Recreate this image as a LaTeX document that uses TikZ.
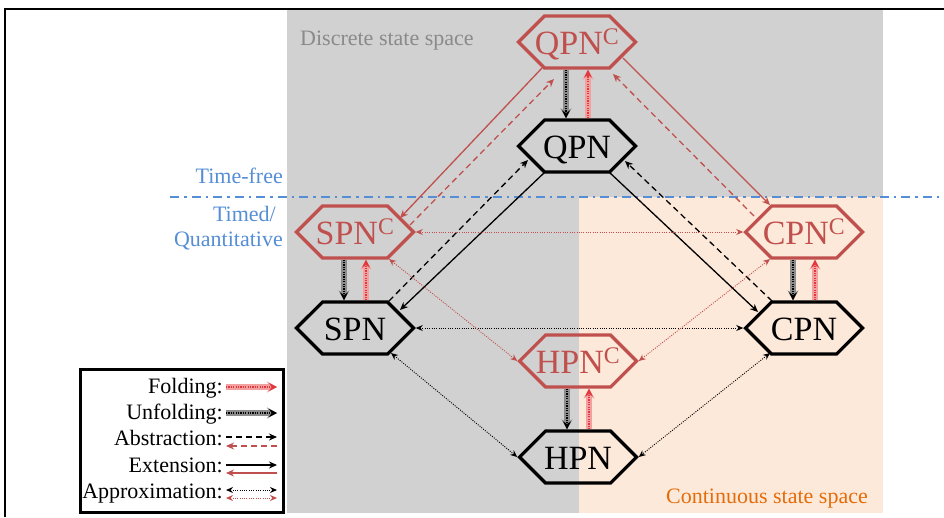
\documentclass[tikz,border=0pt]{standalone}
\usepackage{fontspec}
\setmainfont{Liberation Serif}
\usetikzlibrary{shapes.symbols,arrows.meta,calc}

\definecolor{petred}{HTML}{C0504D}
\definecolor{foldred}{HTML}{E0383D}
\definecolor{foldglow}{HTML}{F2A0A0}
\definecolor{unfoldglow}{HTML}{8C8C8C}
\definecolor{discgray}{HTML}{D1D1D1}
\definecolor{contpeach}{HTML}{FDE9D9}
\definecolor{timeblue}{HTML}{558ED5}
\definecolor{contorange}{HTML}{E46C0A}
\definecolor{discgraytext}{HTML}{8A8A8A}

\tikzset{
	hexnode/.style = {shape=signal, signal to=east and west, signal pointer angle=90,
		minimum width=117pt, minimum height=52pt, inner sep=0pt, line width=3.2pt,
		draw=black, text height=24pt, text depth=0pt, font=\fontsize{34}{34}\selectfont},
	hexc/.style = {hexnode, draw=petred, text=petred},
	folding/.style = {draw=foldred, line width=1.2pt, dash pattern=on 1.2pt off 1.2pt,
		-{Stealth[length=8pt,width=8pt]},
		preaction={draw=foldglow, line width=5.5pt, solid, -{Stealth[length=10pt,width=11pt]}}},
	unfolding/.style = {draw=black, line width=1.2pt, dash pattern=on 1.2pt off 1.2pt,
		-{Stealth[length=8pt,width=8pt]},
		preaction={draw=unfoldglow, line width=5.5pt, solid, -{Stealth[length=10pt,width=11pt]}}},
	abstr/.style = {line width=1.3pt, dash pattern=on 6pt off 4pt, -{Stealth[length=8pt,width=7pt]}},
	extens/.style = {line width=1.3pt, -{Stealth[length=8pt,width=7pt]}},
	approx/.style = {line width=0.9pt, dash pattern=on 1pt off 1.3pt,
		{Stealth[length=7pt,width=6pt]}-{Stealth[length=7pt,width=6pt]}},
	legtext/.style = {anchor=base east, inner sep=0pt, font=\fontsize{22}{22}\selectfont},
	regtext/.style = {inner sep=0pt, font=\fontsize{22}{22}\selectfont}
}

\begin{document}
\begin{tikzpicture}[x=1pt, y=-1pt]

	\useasboundingbox (0,0) rectangle (944,517);

	% state space regions
	\fill [discgray] (287,10) rectangle (883,513);
	\fill [contpeach] (579,197) rectangle (883,513);
	\draw [line width=2pt] (5,517) -- (5,9) -- (944,9);
	\draw [timeblue, line width=2.5pt, dash pattern=on 9pt off 5pt on 2.5pt off 5pt] (170,197) -- (944,197);

	\node [regtext, text=discgraytext, anchor=base west] (disc) at (300,45) {Discrete state space};
	\node [regtext, text=contorange, anchor=base east] (cont) at (868,503) {Continuous state space};
	\node [regtext, text=timeblue, anchor=base east] (tfree) at (283,183) {Time-free};
	\node [regtext, text=timeblue, anchor=base east] (timed) at (276,221) {Timed/};
	\node [regtext, text=timeblue, anchor=base east] (quant) at (283,246) {Quantitative};

	% Petri net classes
	\node [hexc]    (QPNc) at (577,42)  {\makebox[0pt]{QPN\textsuperscript{C}}};
	\node [hexnode] (QPN)  at (577,146) {\makebox[0pt]{QPN}};
	\node [hexc]    (SPNc) at (355,232) {\makebox[0pt]{SPN\textsuperscript{C}}};
	\node [hexnode] (SPN)  at (355,328) {\makebox[0pt]{SPN}};
	\node [hexc]    (CPNc) at (804,232) {\makebox[0pt]{CPN\textsuperscript{C}}};
	\node [hexnode] (CPN)  at (804,328) {\makebox[0pt]{CPN}};
	\node [hexc]    (HPNc) at (578,361) {\makebox[0pt]{HPN\textsuperscript{C}}};
	\node [hexnode] (HPN)  at (578,457) {\makebox[0pt]{HPN}};

	% unfolding / folding
	\foreach \pn in {QPN, SPN, CPN, HPN} {
		\draw [unfolding] ($(\pn c.south)+(-11,0)$) -- ($(\pn.north)+(-11,0)$);
		\draw [folding] ($(\pn.north)+(11,0)$) -- ($(\pn c.south)+(11,0)$);
	}

	% extension / abstraction
	\draw [extens, petred] ($(QPNc)+(-35,26)$) -- ($(SPNc)+(45,-14)$);
	\draw [abstr, petred]  ($(SPNc)+(55,-7)$) -- ($(QPNc)+(-23,37)$);
	\draw [extens, petred] ($(QPNc)+(46,16)$) -- ($(CPNc)+(-34,-27)$);
	\draw [abstr, petred]  ($(CPNc)+(-50,-16)$) -- ($(QPNc)+(36,32)$);
	\draw [extens] ($(QPN)+(-32,26)$) -- ($(SPN)+(45,-18)$);
	\draw [abstr]  ($(SPN)+(34,-27)$) -- ($(QPN)+(-49,14)$);
	\draw [extens] ($(QPN)+(32,26)$) -- ($(CPN)+(-46,-16)$);
	\draw [abstr]  ($(CPN)+(-32,-27)$) -- ($(QPN)+(48,15)$);

	% approximation
	\draw [approx, petred] (SPNc.east) -- (CPNc.west);
	\draw [approx] (SPN.east) -- (CPN.west);
	\draw [approx, petred] ($(SPNc)+(34,27)$) -- (HPNc.west);
	\draw [approx, petred] ($(CPNc)+(-34,27)$) -- (HPNc.east);
	\draw [approx] ($(SPN)+(36,25)$) -- (HPN.west);
	\draw [approx] ($(CPN)+(-34,25)$) -- (HPN.east);

	% legend
	\draw [line width=3pt, fill=white] (80,369) rectangle (283,512);
	\node [legtext] (legfold)   at (223,393) {Folding:};
	\node [legtext] (legunfold) at (223,419) {Unfolding:};
	\node [legtext] (legabs)    at (223,445) {Abstraction:};
	\node [legtext] (legext)    at (223,472) {Extension:};
	\node [legtext] (legapprox) at (223,498) {Approximation:};
	\foreach \row/\yy in {fold/387, unfold/413, absk/437, absr/446, extk/465, extr/473, appk/490, appr/498} {
		\coordinate (\row L) at (226,\yy);
		\coordinate (\row R) at (277,\yy);
	}
	\draw [folding] (foldL) -- (foldR);
	\draw [unfolding] (unfoldL) -- (unfoldR);
	\draw [abstr] (abskL) -- (abskR);
	\draw [abstr, petred] (absrR) -- (absrL);
	\draw [extens] (extkL) -- (extkR);
	\draw [extens, petred] (extrR) -- (extrL);
	\draw [approx] (appkL) -- (appkR);
	\draw [approx, petred] (apprL) -- (apprR);

\end{tikzpicture}
\end{document}
